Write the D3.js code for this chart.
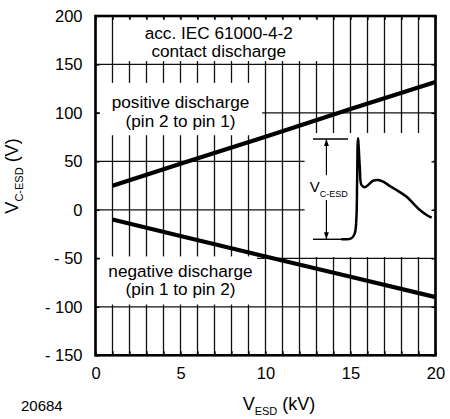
<!DOCTYPE html>
<html>
<head>
<meta charset="utf-8">
<script src="https://cdn.jsdelivr.net/npm/d3@7"></script>
<style>
  body { margin: 0; background: #fff; }
  svg { display: block; font-family: "Liberation Sans", Arial, sans-serif; }
</style>
</head>
<body>
<div id="chart"></div>
<script>
// values
var xTickValues = [0, 5, 10, 15, 20];
var yTickValues = [200, 150, 100, 50, 0, -50, -100, -150];
var yTickLabels = ["200", "150", "100", "50", "0", "- 50", "- 100", "- 150"];
var gridX = d3.range(0, 21, 1);
var gridY = d3.range(-150, 201, 50);

var vEsd = [1, 5, 10, 15, 20];
var positiveDischarge = [25, 47.5, 75.5, 104, 132];
var negativeDischarge = [-10, -27, -48, -69, -90];

// inset sketch of the clamped pulse, in inset units (0..100)
var waveT = [28.7, 36.5, 39.1, 40.4, 40.9, 41.6, 43.0, 44.3, 46.9, 49.5, 53.4, 57.3, 61.2, 66.4, 71.6, 79.5, 84.6, 89.8, 95.1, 99.0];
var waveV = [14.3, 15.1, 19.1, 32.5, 59.4, 95.7, 72.8, 58.1, 56.2, 58.1, 61.5, 62.1, 60.7, 57.3, 54.0, 48.6, 43.3, 37.9, 33.9, 31.7];

var W = 450, H = 419;
var margin = {top: 16, right: 14.5, bottom: 63.7, left: 95.5};
var width = W - margin.left - margin.right;
var height = H - margin.top - margin.bottom;

var svg = d3.select("#chart")
    .append("svg")
    .attr("width", W)
    .attr("height", H);

var g = svg.append("g")
    .attr("transform", "translate(" + margin.left + "," + margin.top + ")");

var xScale = d3.scaleLinear().domain([0, 20]).range([0, width]);
var yScale = d3.scaleLinear().domain([-150, 200]).range([height, 0]);

// grid
g.append("g")
    .selectAll("line")
    .data(gridX)
    .enter()
    .append("line")
    .attr("x1", d => xScale(d)).attr("x2", d => xScale(d))
    .attr("y1", 0).attr("y2", height)
    .style("stroke", "#111").style("stroke-width", 1.3);

g.append("g")
    .selectAll("line")
    .data(gridY)
    .enter()
    .append("line")
    .attr("x1", 0).attr("x2", width)
    .attr("y1", d => yScale(d)).attr("y2", d => yScale(d))
    .style("stroke", "#111").style("stroke-width", 1.3);

// white boxes behind the annotations
var boxes = [
    [1.09, 13.3, 197, 153.5],
    [0.26, 9.8, 131, 77],
    [0.26, 9.5, -48, -97.6],
    [12.3, 19.85, 79.3, -48.6]
];
g.append("g")
    .selectAll("rect")
    .data(boxes)
    .enter()
    .append("rect")
    .attr("x", d => xScale(d[0]))
    .attr("y", d => yScale(d[2]))
    .attr("width", d => xScale(d[1]) - xScale(d[0]))
    .attr("height", d => yScale(d[3]) - yScale(d[2]))
    .style("fill", "#fff");

// inward ticks on all four sides
function tickStyle(sel) {
    sel.select(".domain").remove();
    sel.selectAll("line").style("stroke", "#000").style("stroke-width", 1.3);
}
g.append("g").attr("transform", "translate(0," + height + ")")
    .call(d3.axisTop(xScale).tickValues(gridX).tickSize(4).tickFormat("")).call(tickStyle);
g.append("g")
    .call(d3.axisBottom(xScale).tickValues(gridX).tickSize(4).tickFormat("")).call(tickStyle);
g.append("g")
    .call(d3.axisRight(yScale).tickValues(gridY).tickSize(4).tickFormat("")).call(tickStyle);
g.append("g").attr("transform", "translate(" + width + ",0)")
    .call(d3.axisLeft(yScale).tickValues(gridY).tickSize(4).tickFormat("")).call(tickStyle);

// tick labels
var xAxis = g.append("g")
    .attr("transform", "translate(0," + height + ")")
    .call(d3.axisBottom(xScale).tickValues(xTickValues).tickSize(0).tickPadding(12));
xAxis.select(".domain").remove();
xAxis.selectAll("text")
    .style("font-size", "16.5px").style("font-family", "Liberation Sans, Arial, sans-serif").style("fill", "#000");

var yAxis = g.append("g")
    .call(d3.axisLeft(yScale).tickValues(yTickValues).tickSize(0).tickPadding(13)
        .tickFormat((d, i) => yTickLabels[i]));
yAxis.select(".domain").remove();
yAxis.selectAll("text")
    .style("font-size", "16.5px").style("font-family", "Liberation Sans, Arial, sans-serif").style("fill", "#000");

// data lines
var line = d3.line()
    .x(d => xScale(d[0]))
    .y(d => yScale(d[1]));

[positiveDischarge, negativeDischarge].forEach(series => {
    g.append("path")
        .datum(vEsd.map((v, i) => [v, series[i]]))
        .attr("d", line)
        .style("fill", "none")
        .style("stroke", "#000")
        .style("stroke-width", 4.2);
});

// annotations
function label(lines, cx, y0, dy, size) {
    var t = g.append("text")
        .attr("text-anchor", "middle")
        .style("font-size", size + "px")
        .style("fill", "#000");
    lines.forEach((s, i) => {
        t.append("tspan").attr("x", cx).attr("y", y0 + i * dy).text(s);
    });
}
label(["acc. IEC 61000-4-2", "contact discharge"], xScale(7.25), yScale(175) - 1.5, 18, 17.2);
label(["positive discharge", "(pin 2 to pin 1)"], xScale(5), yScale(105), 18.5, 17.2);
label(["negative discharge", "(pin 1 to pin 2)"], xScale(5), yScale(-69), 18.5, 17.2);

// inset
var insetX = d3.scaleLinear().domain([0, 100]).range([xScale(12.3), xScale(19.85)]);
var insetY = d3.scaleLinear().domain([0, 100]).range([yScale(-48.6), yScale(79.3)]);

var inset = g.append("g").classed("inset", true);
var refTop = 95.2, refBottom = 14.3, arrowU = 17;

inset.append("line")
    .attr("x1", insetX(6.5)).attr("x2", insetX(33.9))
    .attr("y1", insetY(refTop)).attr("y2", insetY(refTop))
    .style("stroke", "#000").style("stroke-width", 1.4);
inset.append("line")
    .attr("x1", insetX(6.5)).attr("x2", insetX(30))
    .attr("y1", insetY(refBottom)).attr("y2", insetY(refBottom))
    .style("stroke", "#000").style("stroke-width", 1.4);

svg.append("defs").append("marker")
    .attr("id", "arrow")
    .attr("viewBox", "0 0 10 10")
    .attr("refX", 10).attr("refY", 5)
    .attr("markerWidth", 8).attr("markerHeight", 7)
    .attr("markerUnits", "userSpaceOnUse")
    .attr("orient", "auto")
    .append("path")
    .attr("d", "M0,1.5 L10,5 L0,8.5 Z")
    .style("fill", "#000");

[[66, refTop], [46, refBottom]].forEach(seg => {
    inset.append("line")
        .attr("x1", insetX(arrowU)).attr("x2", insetX(arrowU))
        .attr("y1", insetY(seg[0])).attr("y2", insetY(seg[1]))
        .attr("marker-end", "url(#arrow)")
        .style("stroke", "#000").style("stroke-width", 1.2);
});

var vLabel = inset.append("text")
    .attr("x", insetX(4))
    .attr("y", insetY(52.5))
    .style("font-size", "15px")
    .style("fill", "#000");
vLabel.append("tspan").text("V");
vLabel.append("tspan").attr("dy", 5).style("font-size", "9px").text("C-ESD");

var waveLine = d3.line()
    .x(d => insetX(d[0]))
    .y(d => insetY(d[1]))
    .curve(d3.curveCatmullRom.alpha(0.5));

inset.append("path")
    .datum(waveT.map((t, i) => [t, waveV[i]]))
    .attr("d", waveLine)
    .style("fill", "none")
    .style("stroke", "#000")
    .style("stroke-width", 2.5)
    .style("stroke-linejoin", "round");

// frame
g.append("rect")
    .attr("x", 0).attr("y", 0)
    .attr("width", width).attr("height", height)
    .style("fill", "none")
    .style("stroke", "#000")
    .style("stroke-width", 2.6);

// axis titles
var xTitle = svg.append("text")
    .attr("x", 279)
    .attr("y", 410)
    .attr("text-anchor", "middle")
    .style("font-size", "18px")
    .style("fill", "#000");
xTitle.append("tspan").text("V");
xTitle.append("tspan").attr("dy", 5).style("font-size", "11px").text("ESD");
xTitle.append("tspan").attr("dy", -5).text(" (kV)");

var yTitle = svg.append("text")
    .attr("transform", "translate(18," + 176 + ") rotate(-90)")
    .attr("text-anchor", "middle")
    .style("font-size", "18px")
    .style("fill", "#000");
yTitle.append("tspan").text("V");
yTitle.append("tspan").attr("dy", 5).style("font-size", "11px").text("C-ESD");
yTitle.append("tspan").attr("dy", -5).text(" (V)");

svg.append("text")
    .attr("x", 21)
    .attr("y", 411)
    .style("font-size", "15px")
    .style("fill", "#000")
    .text("20684");
</script>
</body>
</html>
